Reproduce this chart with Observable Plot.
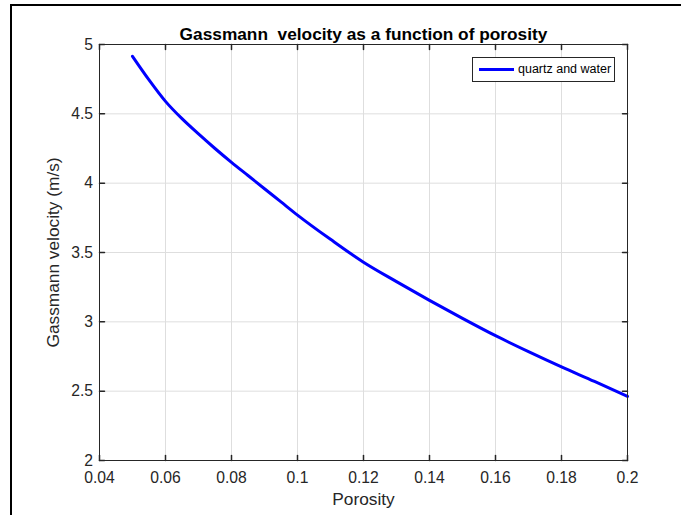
<!DOCTYPE html>
<html><head><meta charset="utf-8">
<script src="https://cdn.jsdelivr.net/npm/d3@7"></script>
<script src="https://cdn.jsdelivr.net/npm/@observablehq/plot@0.6"></script>
<style>
body{margin:0;background:#fff;}
#wrap{position:relative;width:681px;height:515px;overflow:hidden;font-family:"Liberation Sans",Arial,Helvetica,sans-serif;background:#fff;}
#wrap svg{position:absolute;left:0;top:0;}
.edgeTop{position:absolute;left:10px;top:4px;width:671px;height:2px;background:#000;}
.edgeLeft{position:absolute;left:10px;top:4px;width:2px;height:511px;background:#000;}
#legend{position:absolute;left:472px;top:57px;width:141px;height:23px;border:1px solid #262626;background:#fff;}
#legend .sw{position:absolute;left:6px;top:10px;width:35px;height:3px;background:#0000ff;}
#legend .lt{position:absolute;left:45px;top:0;line-height:23px;font-size:12.5px;color:#000;white-space:nowrap;}
</style></head><body><div id="wrap"></div>
<script>
const porosity = [0.05,0.055,0.06,0.065,0.07,0.075,0.08,0.085,0.09,0.095,0.10,0.11,0.12,0.13,0.14,0.15,0.16,0.17,0.18,0.19,0.20];
const velocity = [4.915,4.745,4.59,4.465,4.355,4.25,4.15,4.055,3.96,3.865,3.77,3.595,3.43,3.29,3.155,3.025,2.90,2.785,2.675,2.57,2.462];
const xTicks = [0.04,0.06,0.08,0.1,0.12,0.14,0.16,0.18,0.2];
const yTicks = [2,2.5,3,3.5,4,4.5,5];
const titleText = "Gassmann  velocity as a function of porosity";
const xLabel = "Porosity";
const yLabel = "Gassmann velocity (m/s)";
const seriesName = "quartz and water";

const data = porosity.map((p, i) => ({p, v: velocity[i]}));
const ink = "#262626";
const tickShape = {draw(ctx, l) { ctx.moveTo(0, 0); ctx.lineTo(0, -l); }};
const fam = '"Liberation Sans", Arial, Helvetica, sans-serif';

const chart = Plot.plot({
  width: 681, height: 515,
  marginLeft: 99, marginRight: 54, marginTop: 44, marginBottom: 55,
  x: {domain: [0.04, 0.2]},
  y: {domain: [2, 5]},
  style: {fontFamily: fam, background: "transparent", overflow: "visible"},
  marks: [
    Plot.gridX(xTicks, {stroke: "#dedede", strokeOpacity: 1}),
    Plot.gridY(yTicks, {stroke: "#dedede", strokeOpacity: 1}),
    Plot.line(data, {x: "p", y: "v", stroke: "#0000ff", strokeWidth: 3, curve: "monotone-x"}),
    Plot.frame({stroke: ink}),
    Plot.vector(xTicks, {x: d => d, frameAnchor: "bottom", length: 5, anchor: "start", rotate: 0, shape: tickShape, stroke: ink}),
    Plot.vector(xTicks, {x: d => d, frameAnchor: "top", length: 5, anchor: "start", rotate: 180, shape: tickShape, stroke: ink}),
    Plot.vector(yTicks, {y: d => d, frameAnchor: "left", length: 5, anchor: "start", rotate: 90, shape: tickShape, stroke: ink}),
    Plot.vector(yTicks, {y: d => d, frameAnchor: "right", length: 5, anchor: "start", rotate: -90, shape: tickShape, stroke: ink}),
    Plot.axisX(xTicks, {tickSize: 0, tickPadding: 11.8, fontSize: 15.7, fill: ink, tickFormat: d => String(d), label: null}),
    Plot.axisY(yTicks, {tickSize: 0, tickPadding: 6.5, fontSize: 15.7, fill: ink, tickFormat: d => String(d), label: null}),
    Plot.text([titleText], {text: d => d, frameAnchor: "top", textAnchor: "middle", dy: -16.5, fontSize: 17.3, fontWeight: "bold", fill: "#000"}),
    Plot.text([xLabel], {text: d => d, frameAnchor: "bottom", textAnchor: "middle", lineAnchor: "top", dy: 32, fontSize: 17.3, fill: ink}),
    Plot.text([yLabel], {text: d => d, frameAnchor: "left", textAnchor: "middle", rotate: -90, dx: -46, fontSize: 17.3, fill: ink})
  ]
});
chart.querySelectorAll("text").forEach(t => t.setAttribute("xml:space", "preserve"));
chart.style.whiteSpace = "pre";
const wrap = document.getElementById("wrap");
wrap.appendChild(chart);
const et = document.createElement("div"); et.className = "edgeTop"; wrap.appendChild(et);
const el = document.createElement("div"); el.className = "edgeLeft"; wrap.appendChild(el);
const lg = document.createElement("div"); lg.id = "legend";
const sw = document.createElement("div"); sw.className = "sw"; lg.appendChild(sw);
const lt = document.createElement("span"); lt.className = "lt"; lt.textContent = seriesName; lg.appendChild(lt);
wrap.appendChild(lg);
</script></body></html>
